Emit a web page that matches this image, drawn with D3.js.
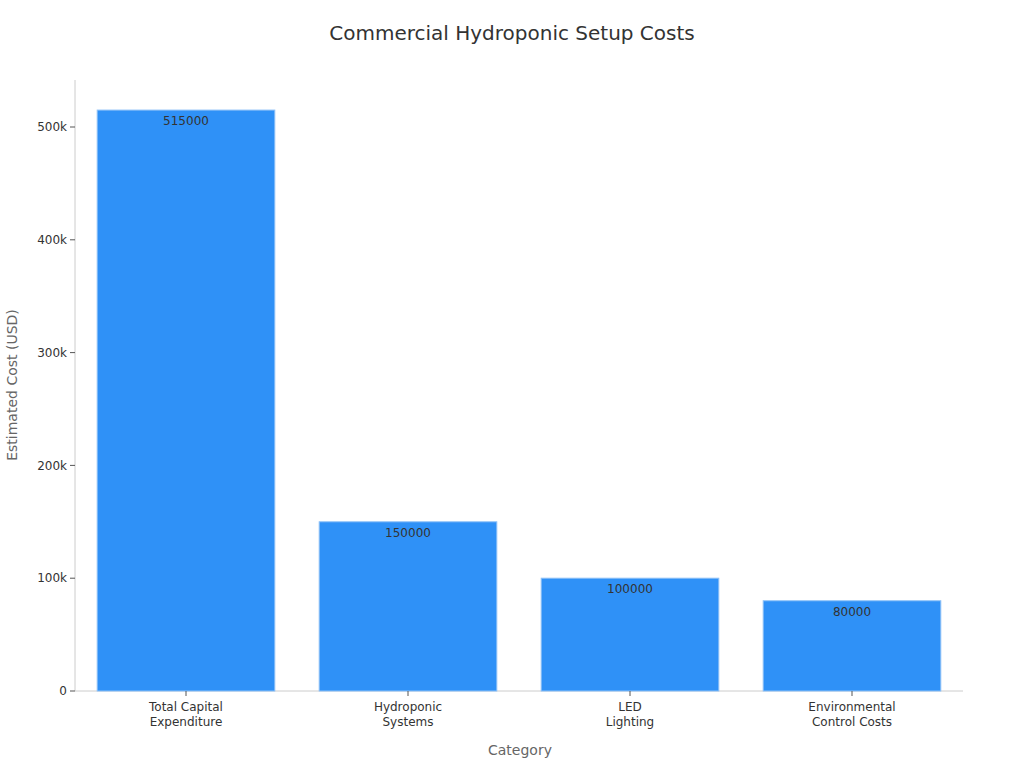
<!DOCTYPE html>
<html><head><meta charset="utf-8">
<script src="https://cdn.jsdelivr.net/npm/d3@7"></script>
<style>body{margin:0;background:#fff;font-family:"DejaVu Sans",sans-serif;}</style>
</head><body><svg id="c" width="1024" height="768"></svg>
<script>
const categories = [["Total Capital","Expenditure"],["Hydroponic","Systems"],["LED","Lighting"],["Environmental","Control Costs"]];
const values = [515000,150000,100000,80000];
const yTicks = [0,100000,200000,300000,400000,500000];

const svg = d3.select("#c");
const L=75,R=963,T=80,B=691;
const x = d3.scaleBand().domain(d3.range(values.length)).range([L,R]).paddingInner(0.2).paddingOuter(0.1);
const y = d3.scaleLinear().domain([0,500000]).range([B,127]);

svg.append("text").attr("x",512).attr("y",40).attr("text-anchor","middle").attr("font-size",20).attr("fill","#333").text("Commercial Hydroponic Setup Costs");

svg.append("line").attr("x1",L).attr("x2",L).attr("y1",T).attr("y2",B).attr("stroke","#ccc");
svg.append("line").attr("x1",L).attr("x2",R).attr("y1",B).attr("y2",B).attr("stroke","#ccc");

yTicks.forEach(t=>{
  svg.append("line").attr("x1",L-5).attr("x2",L).attr("y1",y(t)).attr("y2",y(t)).attr("stroke","#555");
  svg.append("text").attr("x",L-8).attr("y",y(t)).attr("dy","0.35em").attr("text-anchor","end").attr("font-size",12).attr("fill","#333").text(t===0?"0":d3.format("~s")(t).replace("k","k"));
});

values.forEach((v,i)=>{
  svg.append("rect").attr("x",x(i)).attr("y",y(v)).attr("width",x.bandwidth()).attr("height",B-y(v)).attr("fill","#2f91f7").attr("stroke","#8cc0f7").attr("stroke-width",1);
  svg.append("text").attr("x",x(i)+x.bandwidth()/2).attr("y",y(v)+15).attr("text-anchor","middle").attr("font-size",12).attr("fill","#333").text(v);
  const cx=x(i)+x.bandwidth()/2;
  svg.append("line").attr("x1",cx).attr("x2",cx).attr("y1",B).attr("y2",B+5).attr("stroke","#555");
  categories[i].forEach((s,j)=>svg.append("text").attr("x",cx).attr("y",B+20+j*15).attr("text-anchor","middle").attr("font-size",12).attr("fill","#333").text(s));
});

svg.append("text").attr("x",520).attr("y",755).attr("text-anchor","middle").attr("font-size",14).attr("fill","#666").text("Category");
svg.append("text").attr("transform","translate(17,385) rotate(-90)").attr("text-anchor","middle").attr("font-size",14).attr("fill","#666").text("Estimated Cost (USD)");
</script></body></html>
